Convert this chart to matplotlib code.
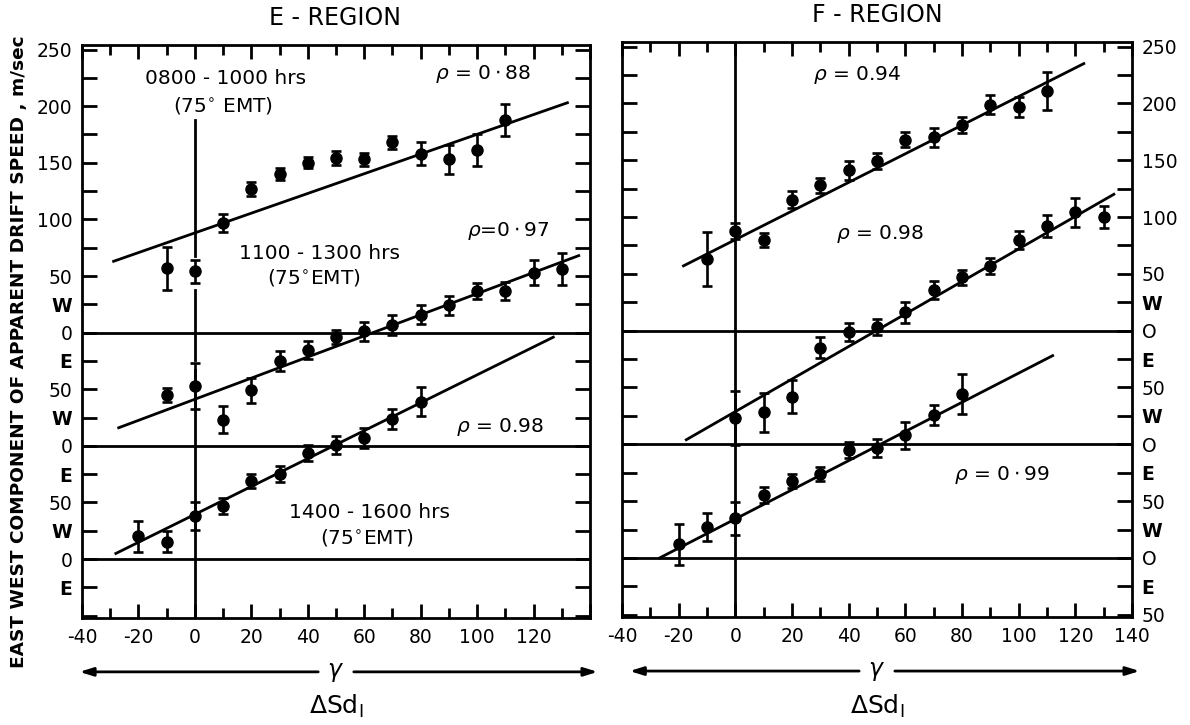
import matplotlib
matplotlib.use("Agg")
import matplotlib.pyplot as plt
from matplotlib.ticker import FixedLocator, FixedFormatter, MultipleLocator

# ---------------- data (values relative to each series' own zero line) ----------------
offsets = [0, -100, -200]

# E-region
e1_x = [-10, 0, 10, 20, 30, 40, 50, 60, 70, 80, 90, 100, 110]
e1_y = [57, 54, 97, 127, 140, 150, 154, 153, 168, 158, 153, 161, 188]
e1_err = [19, 10, 8, 6, 5, 5, 6, 6, 6, 10, 13, 14, 14]
e1_fit_x = [-28.8, 132]
e1_fit_y = [63, 203]

e2_x = [-10, 0, 10, 20, 30, 40, 50, 60, 70, 80, 90, 100, 110, 120, 130]
e2_y = [45, 53, 23, 49, 75, 85, 96, 101, 107, 116, 124, 137, 137, 153, 156]
e2_err = [6, 20, 12, 11, 9, 8, 6, 8, 9, 8, 8, 7, 8, 11, 14]
e2_fit_x = [-27, 136]
e2_fit_y = [16, 168]

e3_x = [-20, -10, 0, 10, 20, 30, 40, 50, 60, 70, 80]
e3_y = [20, 15.5, 38, 47, 69, 75, 94, 101, 107, 124, 139]
e3_err = [14, 9, 12.5, 7, 6.5, 7, 7, 8, 8.5, 9, 13]
e3_fit_x = [-28, 127]
e3_fit_y = [5, 196]

# F-region
f1_x = [-10, 0, 10, 20, 30, 40, 50, 60, 70, 80, 90, 100, 110]
f1_y = [63, 88, 80, 115, 128, 141, 149, 168, 170, 181, 199, 197, 211]
f1_err = [24, 7, 6, 7.5, 6.5, 8, 7, 6.5, 8.5, 7, 8.5, 9, 17]
f1_fit_x = [-18.3, 123]
f1_fit_y = [57, 235]

f2_x = [0, 10, 20, 30, 40, 50, 60, 70, 80, 90, 100, 110, 120, 130]
f2_y = [23, 28, 42, 85, 99, 103, 116, 136, 147, 157, 180, 192, 204, 200]
f2_err = [24, 17, 14.5, 9, 8, 7, 9, 8, 6.5, 7, 8, 9.5, 13, 10]
f2_fit_x = [-17.3, 133.6]
f2_fit_y = [4, 220]

f3_x = [-20, -10, 0, 10, 20, 30, 40, 50, 60, 70, 80]
f3_y = [12, 27, 35, 55, 67.5, 74, 95, 97, 108, 126, 144]
f3_err = [18, 12.5, 14.5, 7, 6, 6, 7, 8, 12, 9, 17.5]
f3_fit_x = [-26.7, 112]
f3_fit_y = [0, 178]

# tick labels
x_ticks = [-40, -20, 0, 20, 40, 60, 80, 100, 120, 140]
e_xlabels = ["-40", "-20", "0", "20", "40", "60", "80", "100", "120", ""]
f_xlabels = ["-40", "-20", "0", "20", "40", "60", "80", "100", "120", "140"]
y_ticks = [250, 225, 200, 175, 150, 125, 100, 75, 50, 25, 0, -25, -50, -75, -100,
           -125, -150, -175, -200, -225, -250]
e_ylabels = ["250", "", "200", "", "150", "", "100", "", "50", "W", "0", "E", "50", "W", "0",
             "E", "50", "W", "0", "E", ""]
f_ylabels = ["250", "", "200", "", "150", "", "100", "", "50", "W", "O", "E", "50", "W", "O",
             "E", "50", "W", "O", "E", "50"]

# ---------------- figure ----------------
plt.rcParams["font.family"] = ["DejaVu Sans"]
plt.rcParams["mathtext.fontset"] = "dejavusans"
fig = plt.figure(figsize=(11.9, 7.25), dpi=100)
W, H = 1190, 725
axE = fig.add_axes([82 / W, 1 - 618 / H, 508 / W, 573 / H])
axF = fig.add_axes([622 / W, 1 - 617 / H, 510 / W, 575 / H])

LW = 2.0
FS = 13.5


def style(ax, xlabels, ylabels, side):
    ax.set_xlim(-40, 140)
    ax.set_ylim(-252, 254)
    for s in ax.spines.values():
        s.set_linewidth(LW)
    ax.xaxis.set_major_locator(FixedLocator(x_ticks))
    ax.xaxis.set_major_formatter(FixedFormatter(xlabels))
    ax.xaxis.set_minor_locator(MultipleLocator(10))
    ax.tick_params(axis="x", which="major", direction="in", top=True, bottom=True,
                   length=10, width=LW, labelsize=FS, pad=7)
    ax.tick_params(axis="x", which="minor", direction="in", top=True, bottom=True,
                   length=7, width=LW)
    ax.yaxis.set_major_locator(FixedLocator(y_ticks))
    ax.yaxis.set_major_formatter(FixedFormatter(ylabels))
    ax.tick_params(axis="y", which="major", direction="in", left=True, right=True,
                   length=11, width=LW, labelsize=FS, pad=7,
                   labelleft=(side == "left"), labelright=(side == "right"))
    for lab in (ax.get_yticklabels()):
        if lab.get_text() in ("W", "E"):
            lab.set_fontweight("bold")
    for off in offsets:
        ax.axhline(off, color="black", lw=LW)


def series(ax, xs, ys, errs, fx, fy, off):
    ax.errorbar(xs, [v + off for v in ys], yerr=errs, fmt="o", color="black",
                ms=8, elinewidth=1.9, capsize=3.5, capthick=1.9, zorder=3)
    ax.plot(fx, [v + off for v in fy], color="black", lw=LW, zorder=2)


style(axE, e_xlabels, e_ylabels, "left")
style(axF, f_xlabels, f_ylabels, "right")

# vertical line at x = 0
for top, bot in [(188, 68), (38, -24), (-33, -252)]:
    axE.plot([0, 0], [top, bot], color="black", lw=LW, zorder=1)
axF.axvline(0, color="black", lw=LW, zorder=1)

series(axE, e1_x, e1_y, e1_err, e1_fit_x, e1_fit_y, offsets[0])
series(axE, e2_x, e2_y, e2_err, e2_fit_x, e2_fit_y, offsets[1])
series(axE, e3_x, e3_y, e3_err, e3_fit_x, e3_fit_y, offsets[2])
series(axF, f1_x, f1_y, f1_err, f1_fit_x, f1_fit_y, offsets[0])
series(axF, f2_x, f2_y, f2_err, f2_fit_x, f2_fit_y, offsets[1])
series(axF, f3_x, f3_y, f3_err, f3_fit_x, f3_fit_y, offsets[2])

TFS = 14.5
# E-region annotations
axE.text(11, 224, "0800 - 1000 hrs", ha="center", va="center", fontsize=TFS)
axE.text(10, 201, "(75$^{\\circ}$ EMT)", ha="center", va="center", fontsize=TFS)
axE.text(102, 228, r"$\rho$ = $0\cdot88$", ha="center", va="center", fontsize=TFS)
axE.text(111, 90, r"$\rho$=$0\cdot97$", ha="center", va="center", fontsize=TFS)
axE.text(44, 70, "1100 - 1300 hrs", ha="center", va="center", fontsize=TFS)
axE.text(42, 49, "(75$^{\\circ}$EMT)", ha="center", va="center", fontsize=TFS)
axE.text(108, -83, r"$\rho$ = 0.98", ha="center", va="center", fontsize=TFS)
axE.text(62, -159, "1400 - 1600 hrs", ha="center", va="center", fontsize=TFS)
axE.text(61, -181, "(75$^{\\circ}$EMT)", ha="center", va="center", fontsize=TFS)

# F-region annotations
axF.text(43, 225, r"$\rho$ = 0.94", ha="center", va="center", fontsize=TFS)
axF.text(51, 85, r"$\rho$ = 0.98", ha="center", va="center", fontsize=TFS)
axF.text(94, -127, r"$\rho$ = $0\cdot99$", ha="center", va="center", fontsize=TFS)

# titles
fig.text(335 / W, 1 - 18 / H, "E - REGION", ha="center", va="center", fontsize=17)
fig.text(877 / W, 1 - 15 / H, "F - REGION", ha="center", va="center", fontsize=17)

# y-axis label
fig.text(19 / W, 1 - 352 / H, "EAST WEST COMPONENT OF APPARENT DRIFT SPEED , m/sec",
         rotation=90, ha="center", va="center", fontsize=13.3, fontweight="bold")

# gamma arrows and Delta Sd_I
for ax, x0, x1 in [(axE, -0.005, 1.015), (axF, 0.015, 1.015)]:
    ya = -0.094
    ax.annotate("", xy=(x0, ya), xytext=(0.465, ya), xycoords="axes fraction",
                textcoords="axes fraction",
                arrowprops=dict(arrowstyle="-|>,head_length=0.8,head_width=0.25",
                                lw=LW, color="black", shrinkA=0, shrinkB=0))
    ax.annotate("", xy=(x1, ya), xytext=(0.535, ya), xycoords="axes fraction",
                textcoords="axes fraction",
                arrowprops=dict(arrowstyle="-|>,head_length=0.8,head_width=0.25",
                                lw=LW, color="black", shrinkA=0, shrinkB=0))
    ax.text(0.5, ya, r"$\gamma$", transform=ax.transAxes, ha="center", va="center",
            fontsize=17)
    ax.text(0.5, -0.155, r"$\Delta$Sd$_{\mathrm{I}}$", transform=ax.transAxes,
            ha="center", va="center", fontsize=18)

fig.savefig("out.png", dpi=100, facecolor="white")
